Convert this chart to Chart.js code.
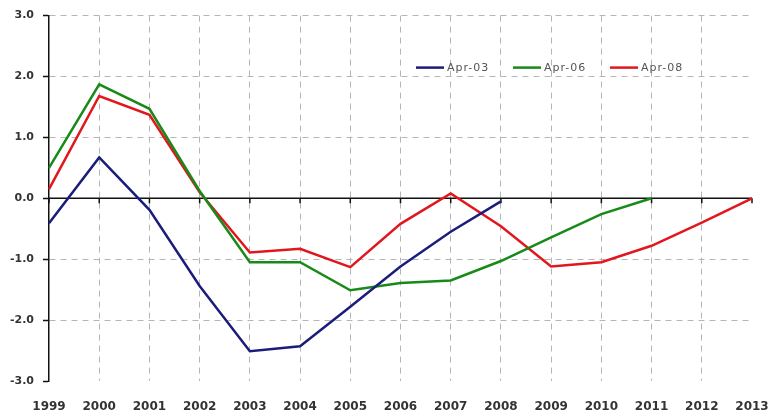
<!DOCTYPE html>
<html>
<head>
<meta charset="utf-8">
<script src="https://cdn.jsdelivr.net/npm/chart.js@4.4.1/dist/chart.umd.min.js"></script>
<style>
  html, body { margin: 0; padding: 0; background: #ffffff; }
  #wrap { width: 772px; height: 419px; }
</style>
</head>
<body>
<div id="wrap"><canvas id="c" width="772" height="419"></canvas></div>
<script>
const years = ['1999','2000','2001','2002','2003','2004','2005','2006','2007','2008','2009','2010','2011','2012','2013'];
const seriesNames = ['Apr-03', 'Apr-06', 'Apr-08'];
const apr03 = [-0.41, 0.67, -0.19, -1.44, -2.51, -2.43, -1.78, -1.12, -0.55, -0.05, null, null, null, null, null];
const apr06 = [0.50, 1.87, 1.47, 0.12, -1.05, -1.05, -1.51, -1.39, -1.35, -1.03, -0.64, -0.26, 0.00, null, null];
const apr08 = [0.15, 1.68, 1.37, 0.10, -0.89, -0.83, -1.13, -0.42, 0.08, -0.46, -1.12, -1.05, -0.78, -0.40, 0.00];
const yTicks = [-3, -2, -1, 0, 1, 2, 3];

const colors = ['#1c1c7c', '#178a17', '#e2171d'];

const zeroLinePlugin = {
  id: 'zeroLine',
  beforeDatasetsDraw(chart) {
    const ctx = chart.ctx;
    const ca = chart.chartArea;
    const ys = chart.scales.y;
    const xs = chart.scales.x;
    const y0 = ys.getPixelForValue(0);
    ctx.save();
    ctx.strokeStyle = '#111';
    ctx.lineWidth = 1.5;
    ctx.beginPath();
    ctx.moveTo(ca.left, y0);
    ctx.lineTo(ca.right, y0);
    ctx.stroke();
    ctx.beginPath();
    for (let i = 0; i < years.length; i++) {
      const x = xs.getPixelForValue(i);
      ctx.moveTo(x, y0);
      ctx.lineTo(x, y0 + 5);
    }
    ctx.stroke();
    ctx.restore();
  }
};

const legendPlugin = {
  id: 'inLegend',
  afterDraw(chart) {
    const ctx = chart.ctx;
    const ca = chart.chartArea;
    ctx.save();
    ctx.font = '11px "DejaVu Sans"';
    try { ctx.letterSpacing = '1px'; } catch (e) {}
    ctx.textBaseline = 'middle';
    ctx.fillStyle = '#555';
    const y = ca.top + 52;
    let x = ca.left + 367;
    chart.data.datasets.forEach((ds) => {
      ctx.strokeStyle = ds.borderColor;
      ctx.lineWidth = 2.5;
      ctx.beginPath();
      ctx.moveTo(x, y);
      ctx.lineTo(x + 28, y);
      ctx.stroke();
      ctx.fillText(ds.label, x + 31, y + 1);
      x += 97;
    });
    ctx.restore();
  }
};

new Chart(document.getElementById('c'), {
  type: 'line',
  data: {
    labels: years,
    datasets: [
      { label: seriesNames[0], data: apr03, borderColor: colors[0] },
      { label: seriesNames[1], data: apr06, borderColor: colors[1] },
      { label: seriesNames[2], data: apr08, borderColor: colors[2] }
    ].map(d => Object.assign(d, { borderWidth: 2.5, pointRadius: 0, tension: 0, fill: false, spanGaps: false }))
  },
  options: {
    responsive: false,
    animation: false,
    layout: { padding: { top: 15, right: 0, left: 0, bottom: 0 } },
    plugins: { legend: { display: false }, tooltip: { enabled: false } },
    scales: {
      x: {
        type: 'category',
        offset: false,
        grid: {
          color: (c) => (c.index === 0 || c.index === years.length - 1) ? 'rgba(0,0,0,0)' : '#b5b5b5',
          lineWidth: 1,
          drawTicks: false
        },
        border: { display: false, dash: [6, 5] },
        ticks: {
          padding: 19,
          autoSkip: false,
          maxRotation: 0,
          color: '#333',
          font: { family: '"DejaVu Sans"', size: 12, weight: 'bold' }
        },
        afterFit: (s) => { s.height = 38; s.paddingLeft = 0; s.paddingRight = 20; }
      },
      y: {
        min: -3,
        max: 3,
        afterBuildTicks: (s) => { s.ticks = yTicks.map(v => ({ value: v })); },
        grid: {
          color: (c) => (c.tick && (c.tick.value === 0 || c.tick.value === -3)) ? 'rgba(0,0,0,0)' : '#b5b5b5',
          lineWidth: 1,
          drawTicks: true,
          tickLength: 6,
          tickColor: '#111',
          tickWidth: 1.5
        },
        border: { display: true, color: '#111', width: 1.5, dash: [6, 5] },
        ticks: {
          padding: 9,
          color: '#333',
          font: { family: '"DejaVu Sans"', size: 11, weight: 'bold' },
          callback: (v) => Number(v).toFixed(1)
        },
        afterFit: (s) => { s.width = 49; }
      }
    }
  },
  plugins: [zeroLinePlugin, legendPlugin]
});
</script>
</body>
</html>
